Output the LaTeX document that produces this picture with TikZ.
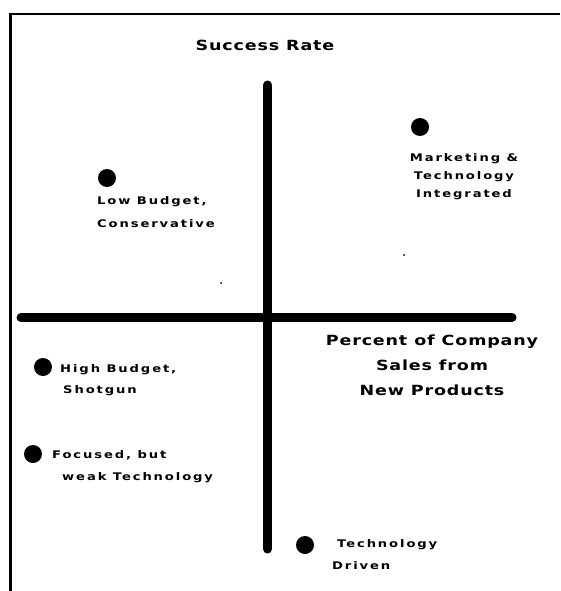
\documentclass[tikz,border=0pt]{standalone}
\usepackage{fontspec}
% wide, heavy lettering for the plot labels
\newfontfamily\labfont[FakeStretch=1.25,LetterSpace=18]{DejaVu Sans Bold}
\newfontfamily\axisfont[FakeStretch=1.25,LetterSpace=6]{DejaVu Sans Bold}
\begin{document}
\begin{tikzpicture}[x=1pt,y=-1pt,
  lab/.style={inner sep=0pt, font=\labfont\fontsize{10.5}{22}\selectfont},
  axlab/.style={inner sep=0pt, font=\axisfont\fontsize{14}{25}\selectfont},
  pt/.style={circle, fill=black, minimum size=18pt, inner sep=0pt},
  speck/.style={circle, fill=black, minimum size=2pt, inner sep=0pt},
  axis/.style={line width=9pt, line cap=round},
  frame/.style={line width=2.5pt}]
\useasboundingbox (0,0) rectangle (560,591);
% frame edges
\coordinate (ftl) at (10.5,14);
\coordinate (ftr) at (560,14);
\coordinate (fbl) at (10.5,591);
\draw[frame] (ftr) -- (ftl) -- (fbl);
% axes
\coordinate (vtop) at (267.5,85);
\coordinate (vbot) at (267.5,549);
\coordinate (hl) at (21,317.5);
\coordinate (hr) at (512,317.5);
\draw[axis] (vtop) -- (vbot);
\draw[axis] (hl) -- (hr);
% axis titles
\node[axlab, anchor=north] (ytitle) at (265,39.5) {Success Rate};
\node[axlab, align=center, anchor=north] (xtitle) at (432,334.5)
  {Percent of Company\\Sales from\\New Products};
% strategies
\node[pt] (p1) at (107,178) {};
\node[lab, align=left, anchor=north west, font=\labfont\fontsize{10.5}{23}\selectfont] (t1) at (97,196) {Low Budget,\\Conservative};
\node[pt] (p2) at (420,127) {};
\node[lab, align=center, anchor=north, font=\labfont\fontsize{10.5}{18}\selectfont] (t2) at (464,153) {Marketing \&\\Technology\\Integrated};
\node[pt] (p3) at (43,367) {};
\node[lab, align=left, anchor=north west, font=\labfont\fontsize{10.5}{21}\selectfont] (t3) at (60,364) {High Budget,\\\hspace*{3pt}Shotgun};
\node[pt] (p4) at (33,454) {};
\node[lab, align=left, anchor=north west] (t4) at (52,450) {Focused, but\\\hspace*{10pt}weak Technology};
\node[pt] (p5) at (305,545) {};
\node[lab, align=left, anchor=north west] (t5) at (337,539) {Technology\\\hspace*{-5pt}Driven};
% stray marks
\node[speck] (s1) at (221,283) {};
\node[speck] (s2) at (404,255) {};
\end{tikzpicture}
\end{document}
